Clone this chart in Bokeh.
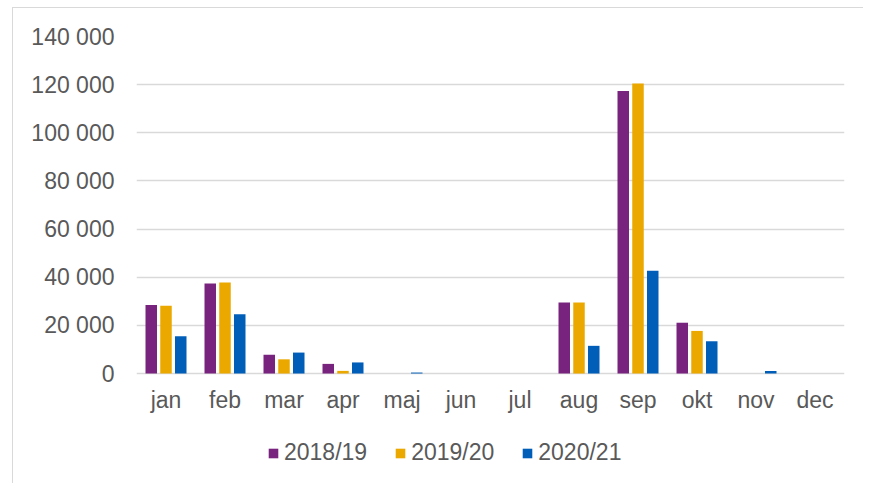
from bokeh.plotting import figure
from bokeh.models import ColumnDataSource, CustomJSTickFormatter, Legend, LegendItem, FactorRange
from bokeh.transform import dodge
from bokeh.core.properties import value
from bokeh.embed import file_html
from bokeh.resources import INLINE

months = ["jan", "feb", "mar", "apr", "maj", "jun", "jul", "aug", "sep", "okt", "nov", "dec"]
series_names = ["2018/19", "2019/20", "2020/21"]
v2018 = [28500, 37400, 7800, 4000, 0, 0, 0, 29500, 117400, 21100, 0, 0]
v2019 = [28200, 37800, 5900, 1100, 0, 0, 0, 29500, 120500, 17700, 0, 0]
v2020 = [15500, 24600, 8700, 4600, 400, 0, 0, 11500, 42700, 13400, 1000, 0]
yticks = [0, 20000, 40000, 60000, 80000, 100000, 120000, 140000]
colors = ["#78247F", "#EBA900", "#005EB8"]

FONT = "Liberation Sans"
TXT = "#595959"
GRID = "#d9d9d9"

src = ColumnDataSource(dict(month=months, a=v2018, b=v2019, c=v2020,
                            zero=[0] * len(months)))

# extra room below zero holds the month labels and the legend
Y_MIN = -46100
Y_MAX = 140000

p = figure(x_range=FactorRange(*months, range_padding=0), y_range=(Y_MIN, Y_MAX),
           width=851, height=476, output_backend="svg", toolbar_location=None,
           x_axis_location=None,
           min_border_left=123, min_border_right=20, min_border_top=28, min_border_bottom=0)
p.styles = {"margin-left": "12px", "margin-top": "7px",
            "border-left": "1px solid #d9d9d9", "border-top": "1px solid #d9d9d9"}
p.outline_line_color = None
p.background_fill_color = "white"
p.border_fill_color = "white"

p.xgrid.grid_line_color = None
p.ygrid.grid_line_color = GRID
p.ygrid.grid_line_width = 1.5

rs = []
for col, off, c in zip(["a", "b", "c"], [-0.25, 0.0, 0.25], colors):
    r = p.vbar(x=dodge("month", off, range=p.x_range), top=col, width=0.195, source=src,
               fill_color=c, line_color=None)
    rs.append(r)

p.text(x="month", y="zero", text="month", source=src, y_offset=13,
       text_align="center", text_baseline="top", text_font=value(FONT),
       text_font_size="23px", text_color=TXT)

p.yaxis.ticker = yticks
p.yaxis.formatter = CustomJSTickFormatter(code="return tick.toFixed(0).replace(/\\B(?=(\\d{3})+(?!\\d))/g, ' ');")
p.yaxis.axis_line_color = None
p.yaxis.major_tick_line_color = None
p.yaxis.minor_tick_line_color = None
p.yaxis.major_label_standoff = 16
p.yaxis.major_label_text_font = FONT
p.yaxis.major_label_text_font_size = "23px"
p.yaxis.major_label_text_color = TXT

legend = Legend(items=[LegendItem(label=n, renderers=[r]) for n, r in zip(series_names, rs)],
                orientation="horizontal", location=(131, 18))
legend.label_text_font = FONT
legend.label_text_font_size = "23px"
legend.label_text_color = TXT
legend.glyph_width = 12
legend.glyph_height = 12
legend.label_standoff = 5
legend.spacing = 27
legend.padding = 0
legend.margin = 0
legend.border_line_color = None
legend.background_fill_alpha = 0
p.add_layout(legend, "center")

open("out.html", "w").write(file_html(p, INLINE))
